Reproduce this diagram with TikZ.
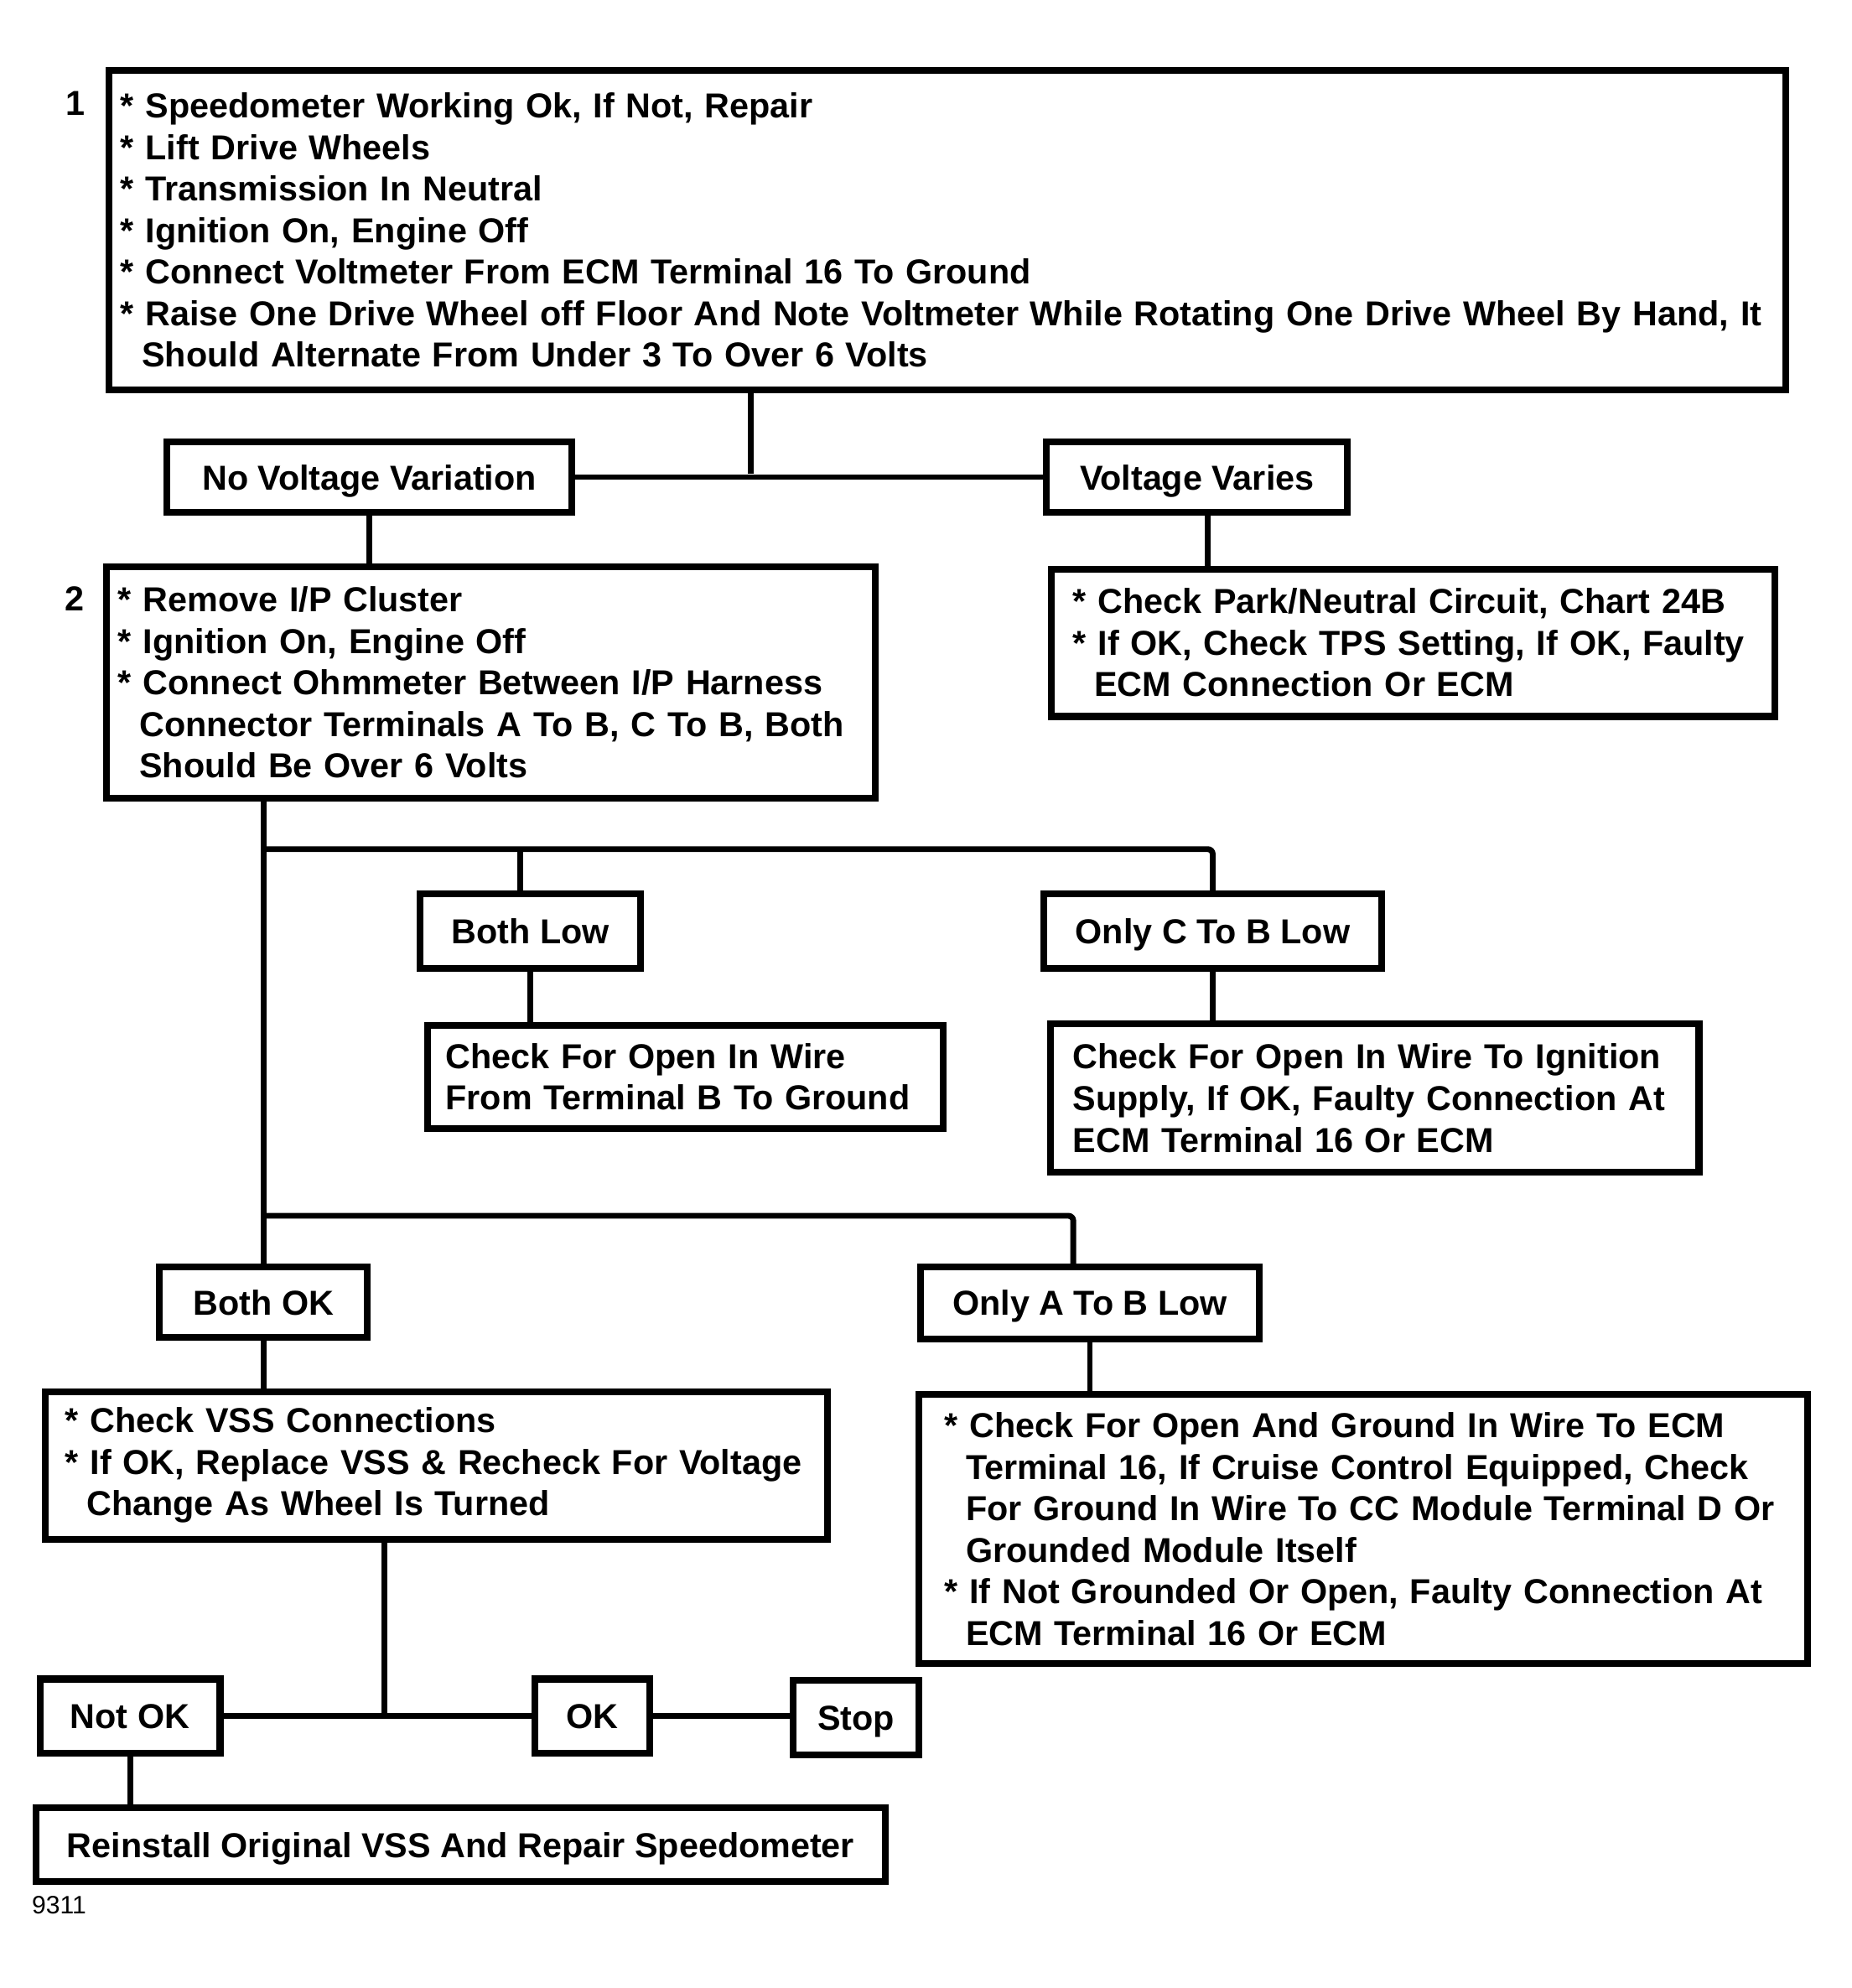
\documentclass[tikz,border=0pt]{standalone}
\usepackage{fontspec}
\setmainfont{Liberation Sans}
\usetikzlibrary{positioning}
% bullet line and continued line of a check box
\newcommand{\itm}[1]{\mbox{* #1}}
\newcommand{\cnt}[1]{\mbox{\hspace*{8.5pt}#1}}
\tikzset{
    %Define style for boxes
    stepbox/.style={
             rectangle, anchor=north west,
             draw=black, line width=2.7pt,
             align=left, inner ysep=0pt,
             font=\bfseries\fontsize{13.75}{16.5}\selectfont},
    resultbox/.style={
             rectangle, anchor=north west,
             draw=black, line width=2.7pt,
             inner sep=0pt, text height=10pt, text depth=0pt,
             font=\bfseries\fontsize{13.75}{16.5}\selectfont},
    numlabel/.style={
             inner sep=0pt,
             font=\bfseries\fontsize{13.75}{16.5}\selectfont},
    % Define line style
    flowline/.style={
            line width=2.3pt,
            rounded corners=2pt}
}
\begin{document}
\begin{tikzpicture}[x=0.5pt, y=-0.5pt]
 \useasboundingbox (0,0) rectangle (1470,1578);
 \fill[white] (0,0) rectangle (1470,1578);
 \node[stepbox, text width=656.5pt, inner xsep=4.5pt, minimum height=127pt] (check1) at (84,53) {
   \itm{Speedometer Working Ok, If Not, Repair}\\
   \itm{Lift Drive Wheels}\\
   \itm{Transmission In Neutral}\\
   \itm{Ignition On, Engine Off}\\
   \itm{Connect Voltmeter From ECM Terminal 16 To Ground}\\
   \itm{Raise One Drive Wheel off Floor And Note Voltmeter While Rotating One Drive Wheel By Hand, It}\\
   \cnt{Should Alternate From Under 3 To Over 6 Volts}};
 \node[numlabel, below left=9.5pt and 8pt of check1.north west] (num1) {1};
 \node[resultbox, minimum width=160.5pt, minimum height=28pt] (novar) at (130,348) {No Voltage Variation};
 \node[resultbox, minimum width=119.5pt, minimum height=28pt] (varies) at (828,348) {Voltage Varies};
 \node[stepbox, text width=296pt, inner xsep=4.5pt, minimum height=92pt] (check2) at (82,447) {
   \itm{Remove I/P Cluster}\\
   \itm{Ignition On, Engine Off}\\
   \itm{Connect Ohmmeter Between I/P Harness}\\
   \cnt{Connector Terminals A To B, C To B, Both}\\
   \cnt{Should Be Over 6 Volts}};
 \node[numlabel, below left=9pt and 7.5pt of check2.north west] (num2) {2};
 \node[stepbox, text width=270pt, inner xsep=8.5pt, minimum height=58.5pt] (park) at (832,449) {
   \itm{Check Park/Neutral Circuit, Chart 24B}\\
   \itm{If OK, Check TPS Setting, If OK, Faulty}\\
   \cnt{ECM Connection Or ECM}};
 \node[resultbox, minimum width=87.5pt, minimum height=29.5pt] (bothlow) at (331,707) {Both Low};
 \node[resultbox, minimum width=134pt, minimum height=29.5pt] (onlyc) at (826,707) {Only C To B Low};
 \node[stepbox, text width=190.5pt, inner xsep=7pt, minimum height=41pt] (wireb) at (337,811) {
   Check For Open In Wire\\
   From Terminal B To Ground};
 \node[stepbox, text width=239.5pt, inner xsep=9pt, minimum height=59pt] (wireign) at (831,810) {
   Check For Open In Wire To Ignition\\
   Supply, If OK, Faulty Connection At\\
   ECM Terminal 16 Or ECM};
 \node[resultbox, minimum width=82.5pt, minimum height=28pt] (bothok) at (124,1003) {Both OK};
 \node[resultbox, minimum width=134.5pt, minimum height=28.5pt] (onlya) at (728,1003) {Only A To B Low};
 \node[stepbox, text width=294.5pt, inner xsep=8pt, minimum height=58.5pt] (vss) at (33,1102) {
   \itm{Check VSS Connections}\\
   \itm{If OK, Replace VSS \& Recheck For Voltage}\\
   \cnt{Change As Wheel Is Turned}};
 \node[stepbox, text width=332.5pt, inner xsep=10pt, minimum height=107pt] (ground) at (727,1104) {
   \itm{Check For Open And Ground In Wire To ECM}\\
   \cnt{Terminal 16, If Cruise Control Equipped, Check}\\
   \cnt{For Ground In Wire To CC Module Terminal D Or}\\
   \cnt{Grounded Module Itself}\\
   \itm{If Not Grounded Or Open, Faulty Connection At}\\
   \cnt{ECM Terminal 16 Or ECM}};
 \node[resultbox, minimum width=71.5pt, minimum height=29.5pt] (notok) at (29,1330) {Not OK};
 \node[resultbox, minimum width=45.5pt, minimum height=29.5pt] (ok) at (422,1330) {OK};
 \node[resultbox, minimum width=50pt, minimum height=29.5pt] (stop) at (627,1331) {Stop};
 \node[resultbox, minimum width=337pt, minimum height=29.5pt] (reinstall) at (26,1432) {Reinstall Original VSS And Repair Speedometer};
 \node[anchor=west, inner sep=0pt, font=\fontsize{10}{12}\selectfont] (fignum) at (25,1512) {9311};
 % junctions of the branch lines
 \coordinate (j1) at (596,376);
 \coordinate (vv) at ([xshift=4.25pt]varies.south);
 \coordinate (j2) at (207,674);
 \coordinate (bl) at (413,674);
 \coordinate (j3) at (207,965);
 \coordinate (oa) at (852,965);
 \coordinate (j4) at (305,1359.5);
 \draw[flowline] (novar) -- (varies);
 \draw[flowline] (j1 |- check1.south) -- (j1);
 \draw[flowline] (novar.south) -- (novar.south |- check2.north);
 \draw[flowline] (vv) -- (vv |- park.north);
 \draw[flowline] (bothok.north |- check2.south) -- (bothok.north);
 \draw[flowline] (j2) -| (onlyc.north);
 \draw[flowline] (bl) -- (bl |- bothlow.north);
 \draw[flowline] (bothlow.south) -- (bothlow.south |- wireb.north);
 \draw[flowline] (onlyc.south) -- (onlyc.south |- wireign.north);
 \draw[flowline] (j3) -- (oa) -- (oa |- onlya.north);
 \draw[flowline] (onlya.south) -- (onlya.south |- ground.north);
 \draw[flowline] (bothok.south) -- (bothok.south |- vss.north);
 \draw[flowline] (notok) -- (ok);
 \draw[flowline] (j4 |- vss.south) -- (j4);
 \draw[flowline] (ok.east) -- (ok.east -| stop.west);
 \draw[flowline] (notok.south) -- (notok.south |- reinstall.north);
\end{tikzpicture}
\end{document}
